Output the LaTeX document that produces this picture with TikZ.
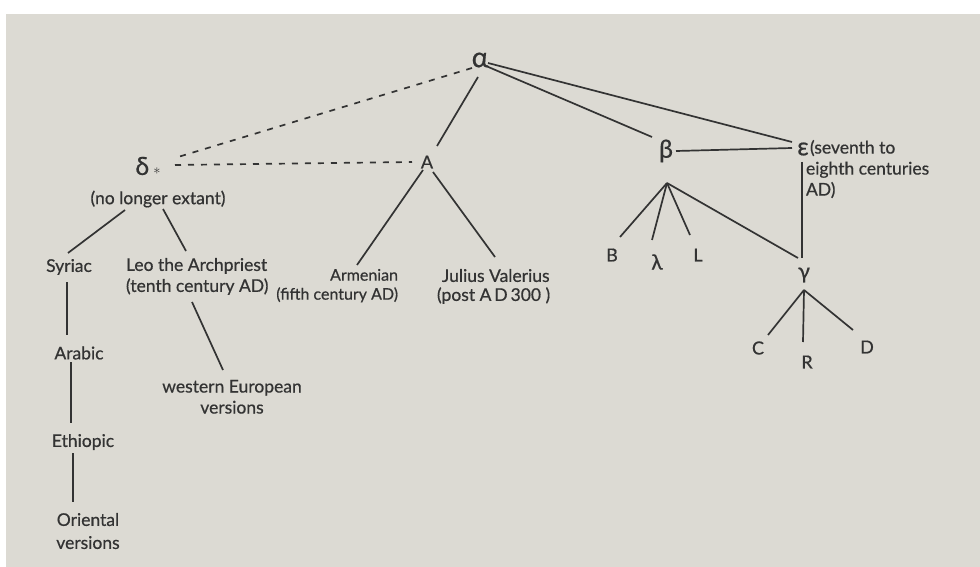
\documentclass[tikz,border=0pt]{standalone}
\usepackage{fontspec}
\setmainfont{Lato}[FakeBold=0.6]
\usetikzlibrary{calc}
\definecolor{paper}{HTML}{DCDAD3}
\definecolor{ink}{HTML}{333333}
\begin{document}
\begin{tikzpicture}[x=1pt,y=-1pt,
  every node/.style={text=ink, inner sep=0pt, outer sep=0pt},
  lbl/.style={font=\fontsize{17.5}{21}\selectfont},
  grk/.style={font=\fontsize{25}{25}\selectfont},
  sig/.style={font=\fontsize{18}{18}\selectfont},
  link/.style={draw=ink, line width=1.7pt},
  lost/.style={draw=ink, line width=1.7pt, dash pattern=on 6pt off 7pt}]
\fill[white] (0,0) rectangle (980,567);
\fill[paper] (6,14) rectangle (980,567);
\useasboundingbox (0,0) rectangle (980,567);

% nodes
\node[grk, font=\fontsize{28}{28}\selectfont] (alpha) at (480,60) {α};
\node[grk] (delta) at (148,166) {δ\,{\fontsize{15}{15}\selectfont$\ast$}};
\node[lbl] (nolonger) at (158,199) {(no longer extant)};
\node[sig] (A) at (427,162) {A};
\node[grk] (beta) at (666,151) {β};
\node[grk] (eps) at (803,149) {ε};
\node[lbl, anchor=north west, align=left] (epstext) at (810,140) {(seventh to\\\hspace*{-4pt}eighth centuries\\\hspace*{-4pt}AD)};
\node[lbl] (syriac) at (69,267) {Syriac};
\node[lbl, anchor=north west, align=left] (leo) at (126,258) {Leo the Archpriest\\(tenth century AD)};
\node[lbl, anchor=north, align=center] (western) at (232,380) {western European\\versions};
\node[lbl] (arabic) at (79,353) {Arabic};
\node[lbl] (ethiopic) at (83,442) {Ethiopic};
\node[lbl, anchor=north, align=center, font=\fontsize{17.5}{23}\selectfont] (oriental) at (88,513) {Oriental\\versions};
\node[lbl, anchor=north east, align=right, font=\fontsize{16}{21}\selectfont] (armenian) at (398,269) {Armenian\\[-2pt](fifth century AD)};
\node[lbl, anchor=north west, align=left] (julius) at (437,269) {\hspace*{5pt}Julius Valerius\\[-2pt](post A\,D\,300 )};
\node[sig] (B) at (612,255) {B};
\node[grk, font=\fontsize{21}{21}\selectfont] (lambda) at (657,262) {λ};
\node[sig] (L) at (698,255) {L};
\node[grk, font=\fontsize{22}{22}\selectfont] (gamma) at (804,275) {γ};
\node[sig] (C) at (758,348) {C};
\node[sig] (R) at (807,362) {R};
\node[sig] (D) at (867,347) {D};
\coordinate (bfan) at (667,183);
\coordinate (gfan) at (804,290);

% lost (dashed) links
\draw[lost] ($(alpha)+(-8,8)$) -- ($(delta)+(30,-9)$);
\draw[lost] ($(delta)+(27,-1)$) -- ($(A)+(-15,0)$);

% solid links
\draw[link] ($(alpha)+(-2,17)$) -- ($(A)+(10,-16)$);
\draw[link] ($(A)+(-4,8)$) -- ($(armenian.north east)+(-41,-4)$);
\draw[link] ($(A)+(6,10)$) -- ($(julius.north west)+(58,-12)$);
\draw[link] ($(alpha)+(6,6)$) -- ($(beta)+(-14,-14)$);
\draw[link] ($(alpha)+(8,3)$) -- ($(eps)+(-11,-7)$);
\draw[link] ($(beta)+(10,0)$) -- ($(eps)+(-11,-1)$);
\draw[link] (bfan) -- ($(B)+(8,-18)$);
\draw[link] (bfan) -- ($(lambda)+(-5,-22)$);
\draw[link] (bfan) -- ($(L)+(-8,-20)$);
\draw[link] (bfan) -- ($(gamma)+(-6,-17)$);
\draw[link] ($(eps)+(-1,13)$) -- ($(gamma)+(-2,-17)$);
\draw[link] (gfan) -- ($(C)+(10,-13)$);
\draw[link] (gfan) -- ($(R)+(-4,-20)$);
\draw[link] (gfan) -- ($(D)+(-14,-17)$);
\draw[link] ($(nolonger)+(-33,11)$) -- ($(syriac)+(-1,-14)$);
\draw[link] ($(nolonger)+(5,10)$) -- ($(leo.north west)+(60,-7)$);
\draw[link] ($(leo.north west)+(66,44)$) -- ($(western.north)+(-9,-10)$);
\draw[link] ($(syriac)+(-2,15)$) -- ($(arabic)+(-12,-18)$);
\draw[link] ($(arabic)+(-8,9)$) -- ($(ethiopic)+(-12,-19)$);
\draw[link] ($(ethiopic)+(-10,11)$) -- ($(oriental.north)+(-15,-11)$);
\end{tikzpicture}
\end{document}
